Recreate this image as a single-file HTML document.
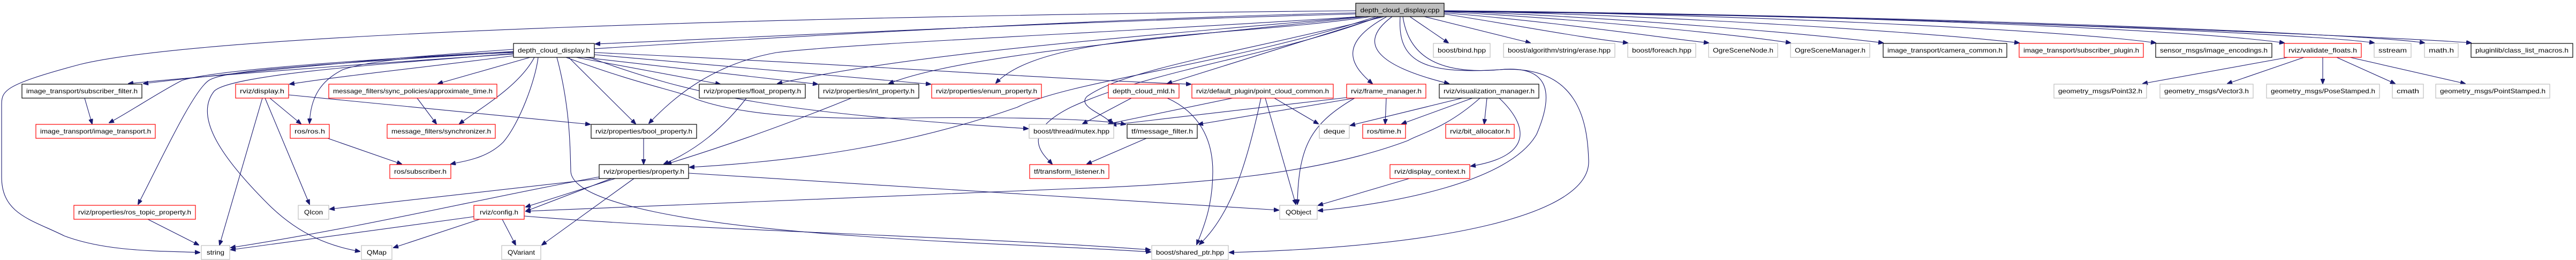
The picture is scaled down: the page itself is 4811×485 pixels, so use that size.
<!DOCTYPE html>
<html><head><meta charset="utf-8"><style>
html,body{margin:0;padding:0;background:#fff;}
svg{display:block;}
text{font-family:"Liberation Sans",sans-serif;font-size:12px;fill:#000;}
path{fill:none;stroke:#191970;stroke-width:1.1;}
rect{fill:#fff;stroke-width:1.2;}
.k{stroke:#000;} .r{stroke:#ff0000;} .g{stroke:#bfbfbf;}
</style></head><body>
<svg width="4811" height="485" viewBox="0 0 4811 485" xmlns="http://www.w3.org/2000/svg">
<defs><marker id="a" markerWidth="10" markerHeight="8" refX="9" refY="4" orient="auto" markerUnits="userSpaceOnUse"><path d="M0,0 L10,4 L0,8 z" style="fill:#191970;stroke:#191970;stroke-width:1"/></marker></defs>
<g marker-end="url(#a)">
<path d="M2532,20 C1500,30 400,60 150,120 C0,160 3,170 3,200 L3,330 C3,400 60,410 120,440 C200,470 300,468 373,471"/>
<path d="M2532,24 C1800,40 600,120 240,156"/>
<path d="M2532,26 C2000,40 1400,70 1112,82"/>
<path d="M959,92 C700,110 400,140 268,156"/>
<path d="M959,96 C700,110 400,130 340,150 C300,170 240,210 204,229"/>
<path d="M959,97 C600,120 420,130 390,150 C360,170 300,300 258,381"/>
<path d="M959,100 C700,120 430,140 400,170 C360,220 420,300 500,380 C560,440 620,460 672,469"/>
<path d="M959,104 C800,125 650,140 541,157"/>
<path d="M959,98 C800,105 700,110 640,130 C600,150 580,180 578,230"/>
<path d="M990,107 L818,156"/>
<path d="M998,107 C970,160 900,200 858,231"/>
<path d="M1005,107 C1000,150 970,230 940,265 C910,295 870,300 842,306"/>
<path d="M1076,107 L1345,157"/>
<path d="M1090,107 L1527,157"/>
<path d="M1110,102 L1738,157"/>
<path d="M1062,107 L1187,231"/>
<path d="M1100,107 C1300,180 1450,210 1920,240"/>
<path d="M1110,98 C1600,120 2000,150 2224,157"/>
<path d="M1057,107 C1200,160 1270,170 1300,185 C1400,220 1550,222 1700,220 C1900,218 2050,222 2102,232"/>
<path d="M1040,107 C1065,200 1065,280 1066,320 C1070,380 1300,420 1600,440 C1800,455 2000,460 2149,470"/>
<path d="M2540,31 C2100,60 1600,80 1450,98 C1330,120 1260,180 1212,230"/>
<path d="M2545,31 C2100,70 1700,100 1452,156"/>
<path d="M2550,31 C2200,70 1800,100 1660,156"/>
<path d="M2560,31 C2300,70 1950,60 1860,155"/>
<path d="M2570,31 C2300,120 2000,150 1900,200 C1700,270 1500,300 1288,312"/>
<path d="M2575,31 C2400,100 2150,130 2000,200 C1900,250 1950,290 1965,306"/>
<path d="M2580,31 L2180,156"/>
<path d="M2585,31 C2300,100 2100,130 2030,180 C2010,200 2070,215 2075,231"/>
<path d="M2590,31 C2500,80 2520,120 2563,156"/>
<path d="M2600,31 C2520,90 2600,130 2706,156"/>
<path d="M2615,31 C2610,110 2650,140 2800,130 C2900,120 2900,180 2870,250 C2820,340 2600,380 2462,393"/>
<path d="M2620,31 C2630,100 2680,140 2800,130 C2950,120 2965,230 2967,300 C2970,400 2700,460 2296,471"/>
<path d="M2633,31 L2705,80"/>
<path d="M2660,31 L2858,80"/>
<path d="M2697,26 C2850,50 2950,70 3040,80"/>
<path d="M2697,24 C2900,40 3100,70 3191,80"/>
<path d="M2697,22 C2950,35 3250,65 3344,80"/>
<path d="M2697,21 C3000,30 3400,65 3517,80"/>
<path d="M2697,20 C3100,28 3600,60 3771,80"/>
<path d="M2697,20 C3200,25 3850,55 4026,80"/>
<path d="M2697,20 C3300,25 4050,50 4266,80"/>
<path d="M2697,21 C3400,25 4300,60 4434,80"/>
<path d="M2697,21 C3400,24 4400,60 4528,80"/>
<path d="M2697,22 C3500,26 4500,70 4615,80"/>
<path d="M490,183 L410,457"/>
<path d="M495,183 L578,381"/>
<path d="M504,183 L562,231"/>
<path d="M539,177 L1102,232"/>
<path d="M158,183 L172,231"/>
<path d="M779,183 L815,231"/>
<path d="M612,258 L750,306"/>
<path d="M276,409 L371,457"/>
<path d="M886,404 L431,466"/>
<path d="M896,409 L735,462"/>
<path d="M938,409 L963,457"/>
<path d="M979,403 C1300,430 1800,440 2148,466"/>
<path d="M1140,331 L616,390"/>
<path d="M1149,333 L982,386"/>
<path d="M1160,326 L982,394"/>
<path d="M1119,330 C900,370 700,420 431,462"/>
<path d="M1184,333 L1012,457"/>
<path d="M1286,323 L2388,392"/>
<path d="M1202,258 L1202,306"/>
<path d="M1394,183 C1350,240 1300,280 1240,306"/>
<path d="M1590,183 C1450,240 1330,280 1245,306"/>
<path d="M2764,183 C2700,240 2650,250 2630,262 C2450,330 2200,345 2000,352 C1600,370 1200,385 982,394"/>
<path d="M2113,183 L2022,231"/>
<path d="M2180,183 C2240,210 2265,260 2265,320 C2265,380 2250,420 2235,456"/>
<path d="M2302,183 L2070,231"/>
<path d="M2380,183 L2462,231"/>
<path d="M2363,183 L2420,381"/>
<path d="M2355,183 C2330,300 2300,400 2240,456"/>
<path d="M2515,182 L2076,233"/>
<path d="M2530,183 L2238,232"/>
<path d="M2589,183 L2587,231"/>
<path d="M2530,183 C2450,230 2425,270 2423,381"/>
<path d="M2731,183 L2522,234"/>
<path d="M2750,183 L2618,231"/>
<path d="M2777,183 L2772,231"/>
<path d="M2800,183 C2850,230 2870,290 2747,310"/>
<path d="M2632,333 L2462,383"/>
<path d="M2141,258 L2030,306"/>
<path d="M4273,107 L4002,156"/>
<path d="M4303,107 L4160,156"/>
<path d="M4338,107 L4338,156"/>
<path d="M4364,107 L4473,156"/>
<path d="M4389,107 L4604,156"/>
</g>
<g>
<rect x="2532" y="6" width="165" height="25" class="k" style="fill:#bfbfbf"/><text x="2614.5" y="23" text-anchor="middle" textLength="148" lengthAdjust="spacingAndGlyphs">depth_cloud_display.cpp</text>
<rect x="959" y="81" width="151" height="26" class="k"/><text x="1034.5" y="98" text-anchor="middle" textLength="135" lengthAdjust="spacingAndGlyphs">depth_cloud_display.h</text>
<rect x="2677" y="81" width="106" height="26" class="g"/><text x="2730" y="98" text-anchor="middle" textLength="90" lengthAdjust="spacingAndGlyphs">boost/bind.hpp</text>
<rect x="2808" y="81" width="208" height="26" class="g"/><text x="2912" y="98" text-anchor="middle" textLength="192" lengthAdjust="spacingAndGlyphs">boost/algorithm/string/erase.hpp</text>
<rect x="3040" y="81" width="127" height="26" class="g"/><text x="3103.5" y="98" text-anchor="middle" textLength="111" lengthAdjust="spacingAndGlyphs">boost/foreach.hpp</text>
<rect x="3191" y="81" width="129" height="26" class="g"/><text x="3255.5" y="98" text-anchor="middle" textLength="113" lengthAdjust="spacingAndGlyphs">OgreSceneNode.h</text>
<rect x="3344" y="81" width="148" height="26" class="g"/><text x="3418" y="98" text-anchor="middle" textLength="132" lengthAdjust="spacingAndGlyphs">OgreSceneManager.h</text>
<rect x="3517" y="81" width="231" height="26" class="k"/><text x="3632.5" y="98" text-anchor="middle" textLength="215" lengthAdjust="spacingAndGlyphs">image_transport/camera_common.h</text>
<rect x="3771" y="81" width="232" height="26" class="r"/><text x="3887" y="98" text-anchor="middle" textLength="216" lengthAdjust="spacingAndGlyphs">image_transport/subscriber_plugin.h</text>
<rect x="4026" y="81" width="217" height="26" class="k"/><text x="4134.5" y="98" text-anchor="middle" textLength="201" lengthAdjust="spacingAndGlyphs">sensor_msgs/image_encodings.h</text>
<rect x="4266" y="81" width="144" height="26" class="r"/><text x="4338" y="98" text-anchor="middle" textLength="128" lengthAdjust="spacingAndGlyphs">rviz/validate_floats.h</text>
<rect x="4434" y="81" width="69" height="26" class="g"/><text x="4468.5" y="98" text-anchor="middle" textLength="53" lengthAdjust="spacingAndGlyphs">sstream</text>
<rect x="4528" y="81" width="63" height="26" class="g"/><text x="4559.5" y="98" text-anchor="middle" textLength="47" lengthAdjust="spacingAndGlyphs">math.h</text>
<rect x="4615" y="81" width="190" height="26" class="k"/><text x="4710" y="98" text-anchor="middle" textLength="174" lengthAdjust="spacingAndGlyphs">pluginlib/class_list_macros.h</text>

<rect x="41" y="157" width="224" height="26" class="k"/><text x="153" y="174" text-anchor="middle" textLength="208" lengthAdjust="spacingAndGlyphs">image_transport/subscriber_filter.h</text>
<rect x="440" y="157" width="99" height="26" class="r"/><text x="489.5" y="174" text-anchor="middle" textLength="83" lengthAdjust="spacingAndGlyphs">rviz/display.h</text>
<rect x="614" y="157" width="314" height="26" class="r"/><text x="771" y="174" text-anchor="middle" textLength="298" lengthAdjust="spacingAndGlyphs">message_filters/sync_policies/approximate_time.h</text>
<rect x="1306" y="157" width="198" height="26" class="k"/><text x="1405" y="174" text-anchor="middle" textLength="182" lengthAdjust="spacingAndGlyphs">rviz/properties/float_property.h</text>
<rect x="1529" y="157" width="187" height="26" class="k"/><text x="1622.5" y="174" text-anchor="middle" textLength="171" lengthAdjust="spacingAndGlyphs">rviz/properties/int_property.h</text>
<rect x="1740" y="157" width="205" height="26" class="r"/><text x="1842.5" y="174" text-anchor="middle" textLength="189" lengthAdjust="spacingAndGlyphs">rviz/properties/enum_property.h</text>
<rect x="2070" y="157" width="132" height="26" class="r"/><text x="2136" y="174" text-anchor="middle" textLength="116" lengthAdjust="spacingAndGlyphs">depth_cloud_mld.h</text>
<rect x="2226" y="157" width="264" height="26" class="r"/><text x="2358" y="174" text-anchor="middle" textLength="248" lengthAdjust="spacingAndGlyphs">rviz/default_plugin/point_cloud_common.h</text>
<rect x="2515" y="157" width="148" height="26" class="r"/><text x="2589" y="174" text-anchor="middle" textLength="132" lengthAdjust="spacingAndGlyphs">rviz/frame_manager.h</text>
<rect x="2688" y="157" width="186" height="26" class="k"/><text x="2781" y="174" text-anchor="middle" textLength="170" lengthAdjust="spacingAndGlyphs">rviz/visualization_manager.h</text>
<rect x="3836" y="157" width="173" height="26" class="g"/><text x="3922.5" y="174" text-anchor="middle" textLength="157" lengthAdjust="spacingAndGlyphs">geometry_msgs/Point32.h</text>
<rect x="4034" y="157" width="174" height="26" class="g"/><text x="4121" y="174" text-anchor="middle" textLength="158" lengthAdjust="spacingAndGlyphs">geometry_msgs/Vector3.h</text>
<rect x="4233" y="157" width="211" height="26" class="g"/><text x="4338.5" y="174" text-anchor="middle" textLength="195" lengthAdjust="spacingAndGlyphs">geometry_msgs/PoseStamped.h</text>
<rect x="4468" y="157" width="58" height="26" class="g"/><text x="4497" y="174" text-anchor="middle" textLength="42" lengthAdjust="spacingAndGlyphs">cmath</text>
<rect x="4549" y="157" width="213" height="26" class="g"/><text x="4655.5" y="174" text-anchor="middle" textLength="197" lengthAdjust="spacingAndGlyphs">geometry_msgs/PointStamped.h</text>

<rect x="67" y="232" width="223" height="26" class="r"/><text x="178.5" y="249" text-anchor="middle" textLength="207" lengthAdjust="spacingAndGlyphs">image_transport/image_transport.h</text>
<rect x="542" y="232" width="73" height="26" class="r"/><text x="578.5" y="249" text-anchor="middle" textLength="57" lengthAdjust="spacingAndGlyphs">ros/ros.h</text>
<rect x="723" y="232" width="202" height="26" class="r"/><text x="824" y="249" text-anchor="middle" textLength="186" lengthAdjust="spacingAndGlyphs">message_filters/synchronizer.h</text>
<rect x="1104" y="232" width="197" height="26" class="k"/><text x="1202.5" y="249" text-anchor="middle" textLength="181" lengthAdjust="spacingAndGlyphs">rviz/properties/bool_property.h</text>
<rect x="1922" y="232" width="158" height="26" class="g"/><text x="2001" y="249" text-anchor="middle" textLength="142" lengthAdjust="spacingAndGlyphs">boost/thread/mutex.hpp</text>
<rect x="2105" y="232" width="131" height="26" class="k"/><text x="2170.5" y="249" text-anchor="middle" textLength="115" lengthAdjust="spacingAndGlyphs">tf/message_filter.h</text>
<rect x="2464" y="232" width="56" height="26" class="g"/><text x="2492" y="249" text-anchor="middle" textLength="40" lengthAdjust="spacingAndGlyphs">deque</text>
<rect x="2545" y="232" width="80" height="26" class="r"/><text x="2585" y="249" text-anchor="middle" textLength="64" lengthAdjust="spacingAndGlyphs">ros/time.h</text>
<rect x="2700" y="232" width="128" height="26" class="r"/><text x="2764" y="249" text-anchor="middle" textLength="112" lengthAdjust="spacingAndGlyphs">rviz/bit_allocator.h</text>

<rect x="728" y="307" width="114" height="26" class="r"/><text x="785" y="324" text-anchor="middle" textLength="98" lengthAdjust="spacingAndGlyphs">ros/subscriber.h</text>
<rect x="1119" y="307" width="167" height="26" class="k"/><text x="1202.5" y="324" text-anchor="middle" textLength="151" lengthAdjust="spacingAndGlyphs">rviz/properties/property.h</text>
<rect x="1923" y="307" width="148" height="26" class="r"/><text x="1997" y="324" text-anchor="middle" textLength="132" lengthAdjust="spacingAndGlyphs">tf/transform_listener.h</text>
<rect x="2596" y="307" width="149" height="26" class="r"/><text x="2670.5" y="324" text-anchor="middle" textLength="133" lengthAdjust="spacingAndGlyphs">rviz/display_context.h</text>

<rect x="138" y="383" width="227" height="26" class="r"/><text x="251.5" y="400" text-anchor="middle" textLength="211" lengthAdjust="spacingAndGlyphs">rviz/properties/ros_topic_property.h</text>
<rect x="557" y="383" width="57" height="26" class="g"/><text x="585.5" y="400" text-anchor="middle" textLength="35" lengthAdjust="spacingAndGlyphs">QIcon</text>
<rect x="885" y="383" width="94" height="26" class="r"/><text x="932" y="400" text-anchor="middle" textLength="72" lengthAdjust="spacingAndGlyphs">rviz/config.h</text>
<rect x="2390" y="383" width="70" height="26" class="g"/><text x="2425" y="400" text-anchor="middle" textLength="48" lengthAdjust="spacingAndGlyphs">QObject</text>

<rect x="376" y="458" width="53" height="26" class="g"/><text x="402.5" y="475" text-anchor="middle" textLength="33" lengthAdjust="spacingAndGlyphs">string</text>
<rect x="675" y="458" width="57" height="26" class="g"/><text x="703.5" y="475" text-anchor="middle" textLength="37" lengthAdjust="spacingAndGlyphs">QMap</text>
<rect x="937" y="458" width="73" height="26" class="g"/><text x="973.5" y="475" text-anchor="middle" textLength="51" lengthAdjust="spacingAndGlyphs">QVariant</text>
<rect x="2151" y="458" width="143" height="26" class="g"/><text x="2222.5" y="475" text-anchor="middle" textLength="127" lengthAdjust="spacingAndGlyphs">boost/shared_ptr.hpp</text>
</g>
</svg>
</body></html>
